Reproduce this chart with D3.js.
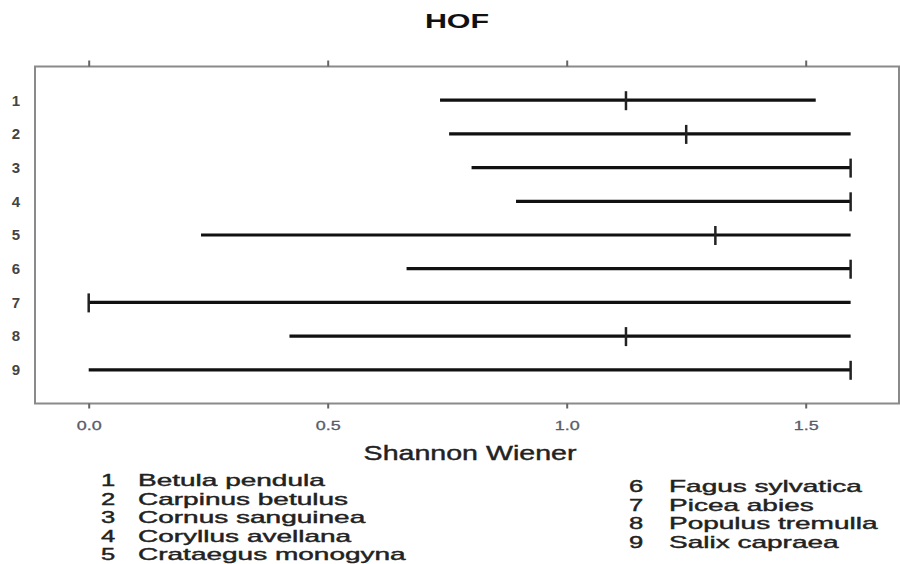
<!DOCTYPE html>
<html>
<head>
<meta charset="utf-8">
<script src="https://cdn.jsdelivr.net/npm/d3@7"></script>
<style>
  body { margin: 0; background: #fff; }
  svg { font-family: "Liberation Sans", Arial, sans-serif; }
</style>
</head>
<body>
<div id="area"></div>
<script>
// species intervals of Shannon Wiener index
const rows = ['1', '2', '3', '4', '5', '6', '7', '8', '9']
const species = ['Betula pendula', 'Carpinus betulus', 'Cornus sanguinea', 'Coryllus avellana',
                 'Crataegus monogyna', 'Fagus sylvatica', 'Picea abies', 'Populus tremulla', 'Salix capraea']
const lower  = [0.735, 0.754, 0.801, 0.894, 0.235, 0.665, 0.0, 0.42, 0.0]
const upper  = [1.521, 1.594, 1.594, 1.594, 1.594, 1.594, 1.594, 1.594, 1.594]
const median = [1.124, 1.250, 1.594, 1.594, 1.311, 1.594, 0.0, 1.124, 1.594]
const xTicks = [0, 0.5, 1, 1.5]

const data = rows.map((r, i) => ({ row: r, lo: lower[i], hi: upper[i], med: median[i] }))

const svg = d3.select('#area')
  .append('svg')
  .attr('width', 900)
  .attr('height', 564)

const boxLeft = 35, boxRight = 899, boxTop = 66.5, boxBottom = 403.5

const xScale = d3.scaleLinear()
  .domain([0, 1.5])
  .range([88.7, 805.7])
const yScale = d3.scaleLinear()
  .domain([0, 10])
  .range([boxTop, boxBottom])

// title
svg.append('text')
  .attr('transform', 'translate(457,28) scale(1.45,1)')
  .attr('text-anchor', 'middle')
  .style('font-size', '21px')
  .style('font-weight', 'bold')
  .style('fill', '#111')
  .text('HOF')

// box
svg.append('rect')
  .attr('x', boxLeft)
  .attr('y', boxTop)
  .attr('width', boxRight - boxLeft)
  .attr('height', boxBottom - boxTop)
  .attr('fill', 'none')
  .attr('stroke', '#8a8a8a')
  .attr('stroke-width', 2)

// top axis, ticks only
const topAxis = svg.append('g')
  .attr('transform', `translate(0,${boxTop})`)
  .call(d3.axisTop(xScale).tickValues(xTicks).tickSize(6).tickFormat(''))
topAxis.select('.domain').remove()
topAxis.selectAll('line').attr('stroke', '#666').attr('stroke-width', 2)

// bottom axis
const bottomAxis = svg.append('g')
  .attr('transform', `translate(0,${boxBottom})`)
  .call(d3.axisBottom(xScale).tickValues(xTicks).tickSize(5).tickPadding(12).tickFormat(d3.format('.1f')))
bottomAxis.select('.domain').remove()
bottomAxis.selectAll('line').attr('stroke', '#666').attr('stroke-width', 2)
bottomAxis.selectAll('text')
  .attr('transform', 'scale(1.38,1)')
  .style('font-size', '13px')
  .style('font-family', '"Liberation Sans", Arial, sans-serif')
  .style('fill', '#5a5a6a')
  .style('stroke', '#5a5a6a')
  .style('stroke-width', 0.3)

// left row labels
const leftAxis = svg.append('g')
  .attr('transform', `translate(${boxLeft},0)`)
  .call(d3.axisLeft(yScale).tickValues(d3.range(1, 10)).tickSize(0).tickPadding(15)
    .tickFormat(d => rows[d - 1]))
leftAxis.select('.domain').remove()
leftAxis.selectAll('text')
  .style('font-size', '15px')
  .style('font-weight', 'bold')
  .style('font-family', '"Liberation Sans", Arial, sans-serif')
  .style('fill', '#444')

// interval lines
svg.selectAll('.range')
  .data(data)
  .enter()
  .append('line')
  .attr('class', 'range')
  .attr('x1', d => xScale(d.lo))
  .attr('x2', d => xScale(d.hi))
  .attr('y1', (d, i) => yScale(i + 1))
  .attr('y2', (d, i) => yScale(i + 1))
  .attr('stroke', '#111')
  .attr('stroke-width', 3.2)

// median marks
svg.selectAll('.med')
  .data(data)
  .enter()
  .append('line')
  .attr('class', 'med')
  .attr('x1', d => xScale(d.med))
  .attr('x2', d => xScale(d.med))
  .attr('y1', (d, i) => yScale(i + 1) - 9)
  .attr('y2', (d, i) => yScale(i + 1) + 10)
  .attr('stroke', '#222')
  .attr('stroke-width', 2.5)

// axis title
svg.append('text')
  .attr('transform', 'translate(470,460) scale(1.43,1)')
  .attr('text-anchor', 'middle')
  .style('font-size', '20px')
  .style('fill', '#222')
  .style('stroke', '#222')
  .style('stroke-width', 0.4)
  .text('Shannon Wiener')

// legend
const legend = svg.selectAll('.legend')
  .data(species)
  .enter()
  .append('g')
  .attr('class', 'legend')
  .attr('transform', (s, i) => {
    if (i < 5) return `translate(0,${486 + i * 18.5})`
    return `translate(0,${492 + (i - 5) * 18.7})`
  })
  .style('fill', '#222')
  .style('stroke', '#222')
  .style('stroke-width', 0.4)

legend.append('text')
  .attr('transform', (s, i) => `translate(${i < 5 ? 108 : 636},0) scale(1.6,1)`)
  .attr('text-anchor', 'middle')
  .style('font-size', '16px')
  .text((s, i) => rows[i])

legend.append('text')
  .attr('transform', (s, i) => `translate(${i < 5 ? 138 : 669},0) scale(1.75,1)`)
  .style('font-size', '16px')
  .text(s => s)
</script>
</body>
</html>
